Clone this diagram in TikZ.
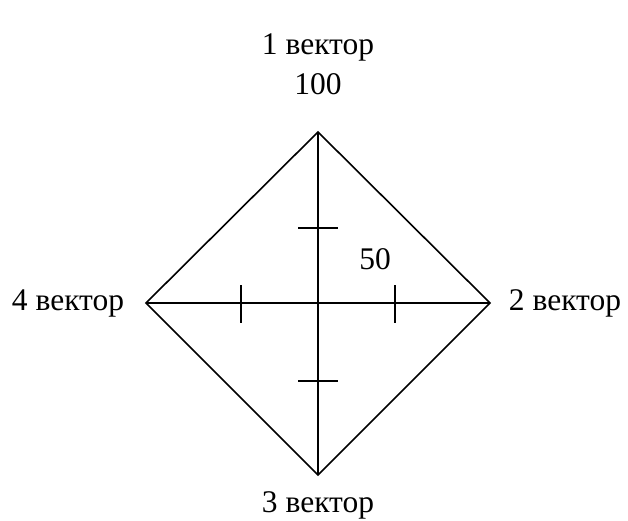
\documentclass[tikz,border=0pt]{standalone}
\usepackage{fontspec}
\setmainfont{Liberation Serif}
\usetikzlibrary{positioning}
\tikzset{
  veclabel/.style={font=\fontsize{31.5}{36}\selectfont,inner sep=0pt,anchor=base},
  axisline/.style={line width=1.6pt,black}
}

\begin{document}
\begin{tikzpicture}[x=1pt,y=-1pt]
        \useasboundingbox (0,0) rectangle (628,521);
        \coordinate (top) at (318,132);
        \coordinate (right) at (490,303);
        \coordinate (bottom) at (318,475);
        \coordinate (left) at (146,303);
        \draw[axisline,line join=miter] (top) -- (right) -- (bottom) -- (left) -- cycle;
        \draw[axisline] (top) -- (bottom);
        \draw[axisline] (left) -- (right);
        % marks at 50
        \foreach \y in {228,381}
          \draw[axisline] (298,\y) -- (338,\y);
        \foreach \x in {241,395}
          \draw[axisline] (\x,285) -- (\x,323);
        \node[veclabel] (v1) at (318,55) {1 вектор};
        \node[veclabel] (max) at (318,95) {100};
        \node[veclabel] (half) at (375,269) {50};
        \node[veclabel] (v2) at (565,310) {2 вектор};
        \node[veclabel] (v3) at (318,512) {3 вектор};
        \node[veclabel] (v4) at (68,310) {4 вектор};
      \end{tikzpicture}
\end{document}
